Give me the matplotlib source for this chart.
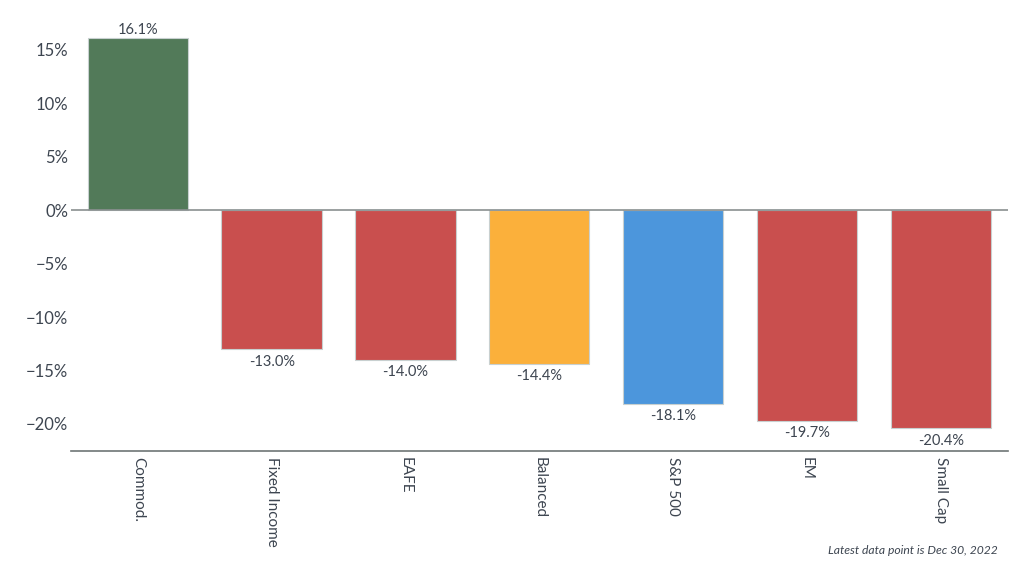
import matplotlib
matplotlib.use("Agg")
import matplotlib.pyplot as plt

categories = ["Commod.", "Fixed Income", "EAFE", "Balanced", "S&P 500", "EM", "Small Cap"]
values = [16.1, -13.0, -14.0, -14.4, -18.1, -19.7, -20.4]
colors = ["#527a59", "#c94f4e", "#c94f4e", "#fbb03b", "#4c96dc", "#c94f4e", "#c94f4e"]
yticks = [-20, -15, -10, -5, 0, 5, 10, 15]
note = "Latest data point is Dec 30, 2022"

plt.rcParams['font.family'] = ['Lato', 'DejaVu Sans']
txt = "#3d4550"

fig = plt.figure(figsize=(10.24, 5.76), dpi=100)
ax = fig.add_axes([0.0693, 0.217, 0.9147, 0.748])

x = list(range(len(categories)))
ax.bar(x, values, width=0.75, color=colors, edgecolor="#c8d0d0", linewidth=0.8, zorder=2)
ax.axhline(0, color="#8a9090", linewidth=1.2, zorder=3)

for xi, v in zip(x, values):
    if v >= 0:
        ax.text(xi, v + 0.15, f"{v:.1f}%", ha="center", va="bottom", fontsize=10.5, color=txt)
    else:
        ax.text(xi, v - 0.5, f"{v:.1f}%", ha="center", va="top", fontsize=10.5, color=txt)

ax.set_xlim(-0.5, 6.5)
ax.set_ylim(-22.53, 17.79)
ax.set_yticks(yticks)
ax.set_yticklabels([(f"\u2212{abs(t)}%" if t < 0 else f"{t}%") for t in yticks], fontsize=12, color=txt)
ax.set_xticks(x)
ax.set_xticklabels(categories, rotation=-90, fontsize=11, color=txt, va="top", ha="center")
ax.tick_params(axis="y", length=0, pad=2)
ax.tick_params(axis="x", length=0, pad=4)

for s in ["top", "right", "left"]:
    ax.spines[s].set_visible(False)
ax.spines["bottom"].set_color("#6e7575")
ax.spines["bottom"].set_linewidth(1.2)

fig.text(0.974, 0.045, note, ha="right", va="center", fontsize=8.7, style="italic", color=txt)

fig.savefig("out.png", dpi=100, facecolor="white")
